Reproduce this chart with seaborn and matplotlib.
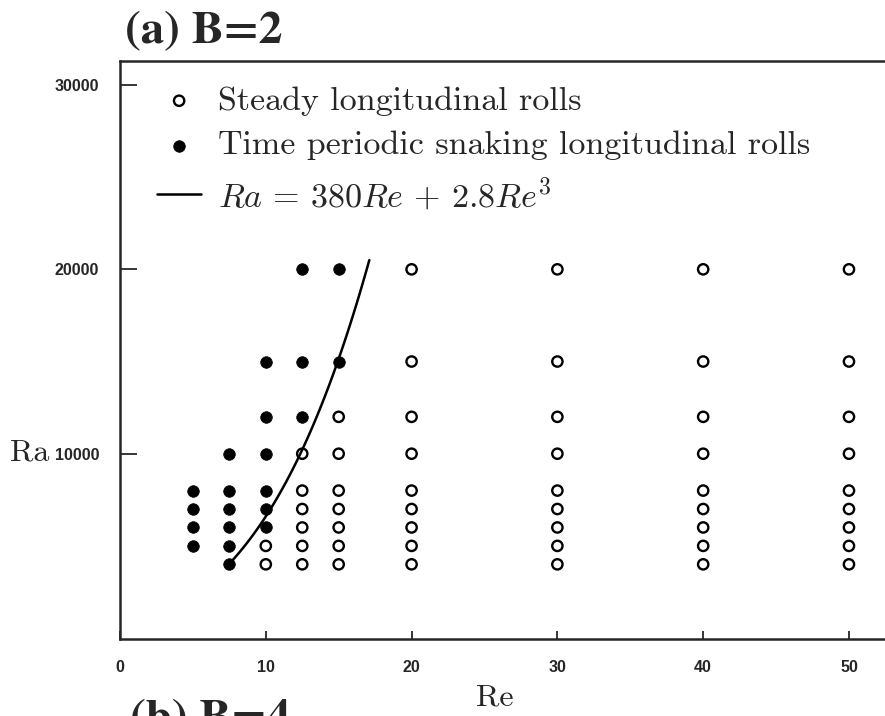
import numpy as np
import pandas as pd
import matplotlib
matplotlib.use("Agg")
import matplotlib.pyplot as plt
import seaborn as sns

# valores: Re -> lista de Ra
steady_re = [10, 12.5, 15, 20, 30, 40, 50]
steady_ra = [
    [4000, 5000],
    [4000, 5000, 6000, 7000, 8000, 10000],
    [4000, 5000, 6000, 7000, 8000, 10000, 12000],
    [4000, 5000, 6000, 7000, 8000, 10000, 12000, 15000, 20000],
    [4000, 5000, 6000, 7000, 8000, 10000, 12000, 15000, 20000],
    [4000, 5000, 6000, 7000, 8000, 10000, 12000, 15000, 20000],
    [4000, 5000, 6000, 7000, 8000, 10000, 12000, 15000, 20000],
]
snake_re = [5, 7.5, 10, 12.5, 15]
snake_ra = [
    [5000, 6000, 7000, 8000],
    [4000, 5000, 6000, 7000, 8000, 10000],
    [6000, 7000, 8000, 10000, 12000, 15000],
    [12000, 15000, 20000],
    [15000, 20000],
]

# curva de la leyenda: Ra = 380 Re + 2.8 Re^3
fit_a = 380
fit_b = 2.8
fit_re_start = 7.4
fit_re_end = 17.1

x_ticks = [0, 10, 20, 30, 40, 50]
y_ticks = [10000, 20000, 30000]

lab_steady = "Steady longitudinal rolls"
lab_snake = "Time periodic snaking longitudinal rolls"
lab_fit = r"$Ra\,=\,380Re\,+\,2.8Re^3$"

df_steady = pd.DataFrame([(r, a) for r, col in zip(steady_re, steady_ra) for a in col], columns=["Re", "Ra"])
df_snake = pd.DataFrame([(r, a) for r, col in zip(snake_re, snake_ra) for a in col], columns=["Re", "Ra"])
re_fit = np.linspace(fit_re_start, fit_re_end, 80)
df_fit = pd.DataFrame({"Re": re_fit, "Ra": fit_a * re_fit + fit_b * re_fit ** 3})

sns.set_style("ticks")
plt.rcParams["mathtext.fontset"] = "cm"
plt.rcParams["axes.linewidth"] = 1.8

fig = plt.figure(figsize=(8.85, 7.16), dpi=100)
ax = fig.add_axes([120 / 885, 77 / 716, 780 / 885, 578 / 716])

sns.scatterplot(data=df_steady, x="Re", y="Ra", ax=ax, marker="o", s=55,
                color="black", facecolor="none", edgecolor="black", linewidth=1.7,
                label=lab_steady)
sns.scatterplot(data=df_snake, x="Re", y="Ra", ax=ax, marker="o", s=70,
                color="black", edgecolor="black", linewidth=0.5, label=lab_snake)
sns.lineplot(data=df_fit, x="Re", y="Ra", ax=ax, color="black", lw=1.8,
             sort=False, label=lab_fit)

ax.set_xlim(0, 53.5)
ax.set_ylim(-50, 31300)
ax.set_xticks(x_ticks)
ax.set_yticks(y_ticks)
ax.set_xticklabels([str(t) for t in x_ticks], fontfamily="Liberation Sans", fontweight="bold", fontsize=11.5)
ax.set_yticklabels([str(t) for t in y_ticks], fontfamily="Liberation Sans", fontweight="bold", fontsize=11.5)
ax.tick_params(axis="x", direction="in", length=6, width=1.3, pad=15)
ax.tick_params(axis="y", direction="in", length=12, width=1.3, pad=15)

ax.set_xlabel("Re", fontfamily="cmr10", fontsize=23)
ax.xaxis.set_label_coords(0.48, -67 / 578)
ax.xaxis.label.set_va("baseline")
ax.set_ylabel("Ra", fontfamily="cmr10", fontsize=23, rotation=0, ha="left", va="center")
ax.yaxis.set_label_coords(-110 / 780, 186 / 578)

handles, labels = ax.get_legend_handles_labels()
ax.legend(handles, labels, loc="upper left", bbox_to_anchor=(37 / 780, 0.957),
          frameon=False, prop={"family": "cmr10", "size": 24.5},
          handlelength=1.3, handletextpad=0.5, labelspacing=0.44,
          borderpad=0, borderaxespad=0)

fig.text(125 / 885, 1 - 43 / 716, "(a) B=2", fontfamily="STIXGeneral",
         fontweight="bold", fontsize=34, va="baseline")
fig.text(130 / 885, 1 - 731 / 716, "(b) B=4", fontfamily="STIXGeneral",
         fontweight="bold", fontsize=34, va="baseline")

fig.savefig("out.png", dpi=100)
